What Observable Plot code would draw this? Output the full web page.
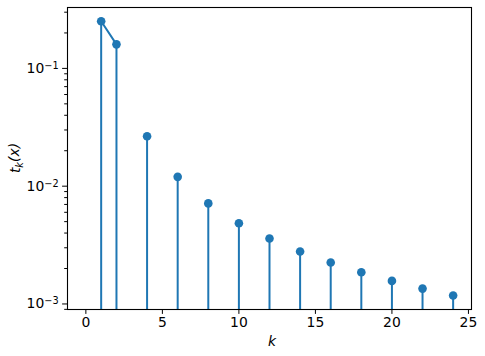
<!DOCTYPE html>
<html><head><meta charset="utf-8">
<script src="https://cdn.jsdelivr.net/npm/d3@7"></script>
<script src="https://cdn.jsdelivr.net/npm/@observablehq/plot@0.6"></script>
<style>body{margin:0;background:#fff} svg{display:block}</style>
</head><body><div id="chart"></div>
<script>
const k = [1, 2, 4, 6, 8, 10, 12, 14, 16, 18, 20, 22, 24];
const t = [0.251, 0.160, 0.0265, 0.0120, 0.00714, 0.00485, 0.00360, 0.00279, 0.00225, 0.00186, 0.00157, 0.00135, 0.00118];
const lineK = [1, 2];
const xTicks = [0, 5, 10, 15, 20, 25];
const yTicks = [1e-3, 1e-2, 1e-1];
const yMinorTicks = [9e-4, 2e-3, 3e-3, 4e-3, 5e-3, 6e-3, 7e-3, 8e-3, 9e-3,
  2e-2, 3e-2, 4e-2, 5e-2, 6e-2, 7e-2, 8e-2, 9e-2, 2e-1, 3e-1];
const xLabel = "k";

const data = k.map((kk, i) => ({k: kk, t: t[i]}));
const lineData = data.filter(d => lineK.includes(d.k));
const yDomain = [Math.pow(10, -3.047), Math.pow(10, -0.483)];
const xDomain = [-1.2, 25.2];
const blue = "#1f77b4";
const font = "DejaVu Sans, sans-serif";
const fs = "13.9px";

const chart = Plot.plot({
  width: 485, height: 356,
  marginLeft: 67, marginRight: 14, marginTop: 7, marginBottom: 47,
  style: {fontFamily: font, fontSize: fs, color: "#000", background: "#fff"},
  x: {domain: xDomain},
  y: {type: "log", domain: yDomain},
  marks: [
    Plot.ruleX(data, {x: "k", y1: d => yDomain[0], y2: "t", stroke: blue, strokeWidth: 2}),
    Plot.line(lineData, {x: "k", y: "t", stroke: blue, strokeWidth: 2}),
    Plot.dot(data, {x: "k", y: "t", r: 4.3, fill: blue, stroke: "none"}),
    Plot.frame({stroke: "#000", strokeWidth: 1.1}),
    Plot.axisX({ticks: xTicks, tickSize: 4.9, tickPadding: 3, label: null, tickFormat: d => String(d)}),
    Plot.axisY({ticks: yMinorTicks, tickSize: 2.8, tickFormat: () => "", label: null}),
    Plot.axisY({ticks: yTicks, tickSize: 4.9, tickPadding: 4, label: null,
      tickFormat: d => "E" + Math.round(Math.log10(d))})
  ]
});
document.getElementById("chart").appendChild(chart);

const svg = d3.select(chart);
svg.selectAll("text").each(function() {
  const txt = this.textContent;
  if (!txt || txt[0] !== "E") return;
  const el = d3.select(this);
  el.text("10");
  el.append("tspan").attr("dy", "-0.42em").attr("font-size", "0.7em").text(txt.slice(1).replace(/[-\u2212]/, "\u2212"));
});

// axis titles
const xs = d3.scaleLinear().domain(xDomain).range([67, 485 - 14]);
svg.append("text")
  .attr("x", xs(12.2)).attr("y", 346)
  .attr("text-anchor", "middle")
  .attr("font-family", font).attr("font-size", fs).attr("font-style", "italic")
  .text(xLabel);
const yl = svg.append("text")
  .attr("transform", `translate(20,${(7 + 309) / 2}) rotate(-90)`)
  .attr("text-anchor", "middle")
  .attr("font-family", font).attr("font-size", fs).attr("font-style", "italic");
yl.append("tspan").text("t");
yl.append("tspan").attr("dy", "0.3em").attr("font-size", "0.7em").text("k");
yl.append("tspan").attr("dy", "-0.3em").text("(x)");
</script></body></html>
